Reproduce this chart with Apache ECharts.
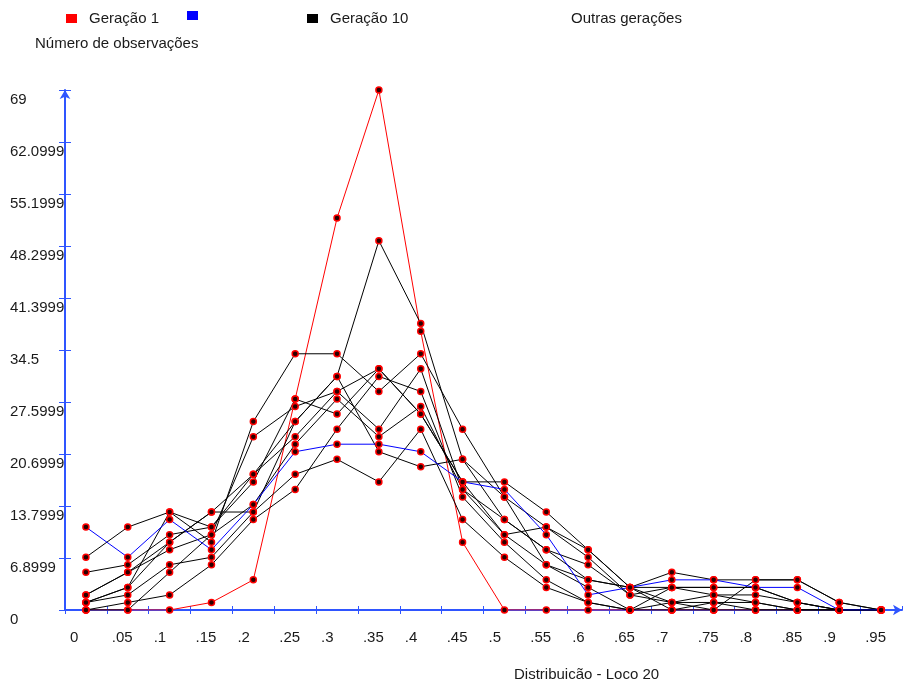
<!DOCTYPE html>
<html>
<head>
<meta charset="utf-8">
<script src="https://cdn.jsdelivr.net/npm/echarts@6/dist/echarts.min.js"></script>
<style>
html,body{margin:0;padding:0;background:#fff;}
#chart{width:905px;height:680px;}
</style>
</head>
<body>
<div id="chart"></div>
<script>
// ---- data ----
const xLabels = ['0','.05','.1','.15','.2','.25','.3','.35','.4','.45','.5','.55','.6','.65','.7','.75','.8','.85','.9','.95'];
const yLabels = ['0','6.8999','13.7999','20.6999','27.5999','34.5','41.3999','48.2999','55.1999','62.0999','69'];
const classes = [0.025,0.075,0.125,0.175,0.225,0.275,0.325,0.375,0.425,0.475,0.525,0.575,0.625,0.675,0.725,0.775,0.825,0.875,0.925,0.975];

const geracao1 = [0,0,0,1,4,28,52,69,37,9,0,0,0,0,0,0,0,0,0,0];
const geracaoAzul = [11,7,12,8,14,21,22,22,21,17,16,10,2,3,4,4,3,3,0,0];
const geracao10 = [1,3,9,13,18,25,31,49,38,20,12,8,4,3,1,1,1,0,0,0];
const outras1 = [7,11,13,9,25,34,34,29,34,24,15,11,7,2,3,2,1,0,0,0];
const outras2 = [5,6,10,11,17,28,26,32,26,17,17,13,8,3,5,4,4,4,1,0];
const outras3 = [2,5,8,10,23,27,29,24,32,16,10,6,3,0,3,3,3,1,0,0];
const outras4 = [0,1,2,6,12,16,24,31,29,15,9,4,1,0,0,0,0,0,0,0];
const outras5 = [1,2,6,7,13,18,20,17,24,12,7,3,1,0,1,2,2,1,0,0];
const outras6 = [0,0,5,10,14,22,28,23,27,16,12,8,6,2,1,0,4,4,1,0];
const outras7 = [2,5,9,13,13,25,31,21,19,20,15,6,4,3,0,1,0,0,0,0];
const outras8 = [1,3,13,11,18,23,29,32,26,17,10,11,8,3,3,3,3,1,0,0];
const outrasGeracoes = [outras1,outras2,outras3,outras4,outras5,outras6,outras7,outras8];

// ---- chart ----
const FONT = 'Liberation Sans';
const FS = 15;
const TXT = '#1a1a1a';
const AXIS = '#2f55ff';
const pairs = vals => classes.map((x,i)=>[x, vals[i]]);
const marker = {color:'#2a0000', borderColor:'#ff0000', borderWidth:1.5};

function lineSeries(name, vals, color){
  return {
    name: name, type:'line', data: pairs(vals),
    symbol:'circle', symbolSize:6, showSymbol:true,
    lineStyle:{color:color, width:1},
    itemStyle: Object.assign({}, marker),
    emphasis:{disabled:true},
    animation:false
  };
}

const series = [];
series.push(lineSeries('Geração 1', geracao1, '#ff0000'));
outrasGeracoes.forEach(v => series.push(lineSeries('Outras gerações', v, '#000000')));
series.push(lineSeries('Geração 10', geracao10, '#000000'));
series.push(lineSeries(' ', geracaoAzul, '#0000ff'));

const legendText = {fontFamily:FONT, fontSize:FS, color:TXT, padding:[0,0,0,7]};
const legendBase = {top:11, padding:0, itemWidth:11, itemHeight:9, icon:'rect', textStyle:legendText};
const option = {
  backgroundColor:'#fff',
  animation:false,
  textStyle:{fontFamily:FONT},
  grid:{left:65, top:90, width:837, height:520, containLabel:false},
  legend:[
    Object.assign({}, legendBase, {data:[{name:'Geração 1', itemStyle:{color:'#ff0000', borderWidth:0}}], left:66}),
    Object.assign({}, legendBase, {data:[{name:' ', itemStyle:{color:'#0000ff', borderWidth:0}}], left:187, formatter:()=>''}),
    Object.assign({}, legendBase, {data:[{name:'Geração 10', itemStyle:{color:'#000000', borderWidth:0}}], left:307}),
    Object.assign({}, legendBase, {data:[{name:'Outras gerações', itemStyle:{opacity:0}}], left:547})
  ],
  xAxis:[
    {type:'value', min:0, max:1, interval:0.05, position:'bottom',
     axisLine:{show:true, onZero:false, lineStyle:{color:AXIS, width:2}, symbol:['none','arrow'], symbolSize:[8,9]},
     axisTick:{show:true, length:4, lineStyle:{color:AXIS, width:1}},
     splitLine:{show:false},
     axisLabel:{show:true, showMaxLabel:false, align:'left', margin:20, padding:[0,0,0,5],
       fontFamily:FONT, fontSize:FS, color:TXT,
       formatter:v => { const k = Math.round(v/0.05); return xLabels[k] !== undefined ? xLabels[k] : ''; }}
    },
    {type:'value', min:0, max:1, interval:0.05, position:'bottom',
     axisLine:{show:false}, axisLabel:{show:false}, splitLine:{show:false},
     axisTick:{show:true, inside:true, length:4, lineStyle:{color:AXIS, width:1}}
    }
  ],
  yAxis:[
    {type:'value', min:0, max:69, interval:6.9, position:'left',
     axisLine:{show:true, onZero:false, lineStyle:{color:AXIS, width:2}, symbol:['none','arrow'], symbolSize:[8,9]},
     axisTick:{show:true, length:6, lineStyle:{color:AXIS, width:1}},
     splitLine:{show:false},
     axisLabel:{show:true, align:'left', verticalAlign:'top', margin:55, padding:[2,0,0,0],
       fontFamily:FONT, fontSize:FS, color:TXT,
       formatter:v => { const k = Math.round(v/6.9); return yLabels[k] !== undefined ? yLabels[k] : ''; }}
    },
    {type:'value', min:0, max:69, interval:6.9, position:'left',
     axisLine:{show:false}, axisLabel:{show:false}, splitLine:{show:false},
     axisTick:{show:true, inside:true, length:6, lineStyle:{color:AXIS, width:1}}
    }
  ],
  graphic:[
    {type:'text', left:35, top:36, style:{text:'Número de observações', font:FS + 'px "Liberation Sans"', fill:TXT}},
    {type:'text', left:514, top:667, style:{text:'Distribuicão - Loco 20', font:FS + 'px "Liberation Sans"', fill:TXT}}
  ],
  series: series
};

const chart = echarts.init(document.getElementById('chart'), null, {renderer:'canvas'});
chart.setOption(option);
</script>
</body>
</html>
